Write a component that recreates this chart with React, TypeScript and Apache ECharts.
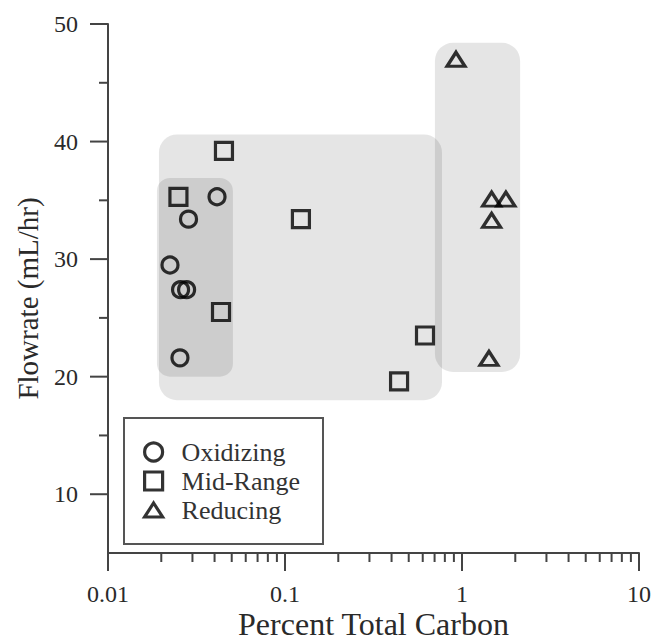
import React, { useEffect, useRef } from "react";
import * as echarts from "echarts";

const xMin = 0.01;
const xMax = 10;
const yMin = 5;
const yMax = 50;

const xMajorTicks = [0.01, 0.1, 1, 10];
const xMinorTicks = [
  0.02, 0.03, 0.04, 0.05, 0.06, 0.07, 0.08, 0.09,
  0.2, 0.3, 0.4, 0.5, 0.6, 0.7, 0.8, 0.9,
  2, 3, 4, 5, 6, 7, 8, 9,
];
const yMajorTicks = [10, 20, 30, 40, 50];
const yMinorTicks = [15, 25, 35, 45];

const oxidizing = [
  [0.0413, 35.3],
  [0.0285, 33.4],
  [0.0224, 29.5],
  [0.0257, 27.4],
  [0.0278, 27.4],
  [0.0255, 21.6],
];
const midRange = [
  [0.0452, 39.2],
  [0.025, 35.3],
  [0.123, 33.4],
  [0.0435, 25.5],
  [0.618, 23.5],
  [0.441, 19.6],
];
const reducing = [
  [0.925, 47.0],
  [1.47, 35.1],
  [1.77, 35.1],
  [1.47, 33.3],
  [1.42, 21.55],
];
// [xMin, xMax, yMin, yMax]
const regions = [
  [0.0194, 0.771, 18.0, 40.6],
  [0.0189, 0.0508, 20.0, 36.9],
  [0.703, 2.13, 20.4, 48.4],
];
const regionRadius = [18, 13, 18];

const FONT = "'Liberation Serif', 'DejaVu Serif', serif";
const AXIS_COLOR = "#444";
const TEXT_COLOR = "#2a2a2a";

function tickSeries(values: number[], dir: "x" | "y", len: number) {
  return {
    type: "custom",
    silent: true,
    clip: false,
    z: 4,
    encode: { x: 0, y: 1 },
    data: values.map((v) => (dir === "x" ? [v, yMin] : [xMin, v])),
    renderItem: (_p: any, api: any) => {
      const pt = api.coord([api.value(0), api.value(1)]);
      const shape =
        dir === "x"
          ? { x1: pt[0], y1: pt[1], x2: pt[0], y2: pt[1] + len }
          : { x1: pt[0] - len, y1: pt[1], x2: pt[0], y2: pt[1] };
      return {
        type: "line",
        shape,
        style: { stroke: AXIS_COLOR, lineWidth: 2 },
      };
    },
  };
}

export default function App() {
  const ref = useRef<HTMLDivElement>(null);
  useEffect(() => {
    document.body.style.margin = "0";
    const chart = echarts.init(ref.current!, null, { renderer: "svg" });
    const symbolStyle = {
      color: "rgba(0,0,0,0)",
      borderColor: "#000",
      borderWidth: 3.2,
    };
    const fmt = (v: number) => String(+Number(v).toPrecision(3));
    chart.setOption({
      animation: false,
      backgroundColor: "#fff",
      grid: {
        left: 108,
        right: 13,
        top: 24,
        bottom: 90,
        outerBoundsMode: "none",
      },
      xAxis: {
        type: "log",
        position: "bottom",
        min: xMin,
        max: xMax,
        name: "Percent Total Carbon",
        nameLocation: "middle",
        nameGap: 55,
        nameMoveOverlap: false,
        nameTextStyle: { fontSize: 32, fontFamily: FONT, color: TEXT_COLOR },
        axisLine: { show: true, lineStyle: { color: AXIS_COLOR, width: 2 } },
        axisTick: { show: false },
        minorTick: { show: false },
        axisLabel: {
          customValues: xMajorTicks,
          margin: 29,
          fontSize: 24,
          fontFamily: FONT,
          color: TEXT_COLOR,
          formatter: fmt,
        },
        splitLine: { show: false },
      },
      yAxis: {
        type: "value",
        position: "left",
        min: yMin,
        max: yMax,
        name: "Flowrate (mL/hr)",
        nameLocation: "middle",
        nameGap: 66,
        nameMoveOverlap: false,
        nameTextStyle: {
          fontSize: 29,
          fontFamily: FONT,
          color: TEXT_COLOR,
          padding: [0, 20, 0, 0],
        },
        axisLine: { show: true, lineStyle: { color: AXIS_COLOR, width: 2 } },
        axisTick: { show: false },
        axisLabel: {
          customValues: yMajorTicks,
          margin: 30,
          fontSize: 24,
          fontFamily: FONT,
          color: TEXT_COLOR,
        },
        splitLine: { show: false },
      },
      legend: {
        orient: "vertical",
        left: 143,
        top: 439,
        padding: 0,
        itemGap: 3,
        itemWidth: 18,
        itemHeight: 18,
        itemStyle: { borderWidth: 3.2 },
        textStyle: {
          fontSize: 26,
          fontFamily: FONT,
          color: "#333",
          padding: [0, 0, 0, 14],
        },
        data: [
          { name: "Oxidizing", icon: "circle" },
          { name: "Mid-Range", icon: "rect" },
          { name: "Reducing", icon: "path://M9,0L18,14L0,14Z" },
        ],
        z: 10,
      },
      graphic: [
        {
          type: "rect",
          left: 123,
          top: 417,
          shape: { width: 199, height: 126 },
          style: { fill: "#fff", stroke: "#555", lineWidth: 2 },
          z: 5,
        },
      ],
      series: [
        {
          type: "custom",
          name: "regions",
          encode: { x: [0, 1], y: [2, 3] },
          silent: true,
          z: 1,
          renderItem: (params: any, api: any) => {
            const p0 = api.coord([api.value(0), api.value(3)]);
            const p1 = api.coord([api.value(1), api.value(2)]);
            return {
              type: "rect",
              shape: {
                x: p0[0],
                y: p0[1],
                width: p1[0] - p0[0],
                height: p1[1] - p0[1],
                r: regionRadius[params.dataIndex],
              },
              style: { fill: "rgba(0,0,0,0.1)" },
            };
          },
          data: regions,
        },
        tickSeries(xMajorTicks, "x", 18),
        tickSeries(xMinorTicks, "x", 9),
        tickSeries(yMajorTicks, "y", 18),
        tickSeries(yMinorTicks, "y", 9),
        {
          type: "scatter",
          name: "Oxidizing",
          symbol: "circle",
          symbolSize: 16,
          itemStyle: symbolStyle,
          data: oxidizing,
          z: 3,
        },
        {
          type: "scatter",
          name: "Mid-Range",
          symbol: "rect",
          symbolSize: 17,
          itemStyle: symbolStyle,
          data: midRange,
          z: 3,
        },
        {
          type: "scatter",
          name: "Reducing",
          symbol: "triangle",
          symbolSize: [18, 14],
          itemStyle: symbolStyle,
          data: reducing,
          z: 3,
        },
      ],
    });
    return () => chart.dispose();
  }, []);
  return <div ref={ref} style={{ width: 652, height: 643 }} />;
}
